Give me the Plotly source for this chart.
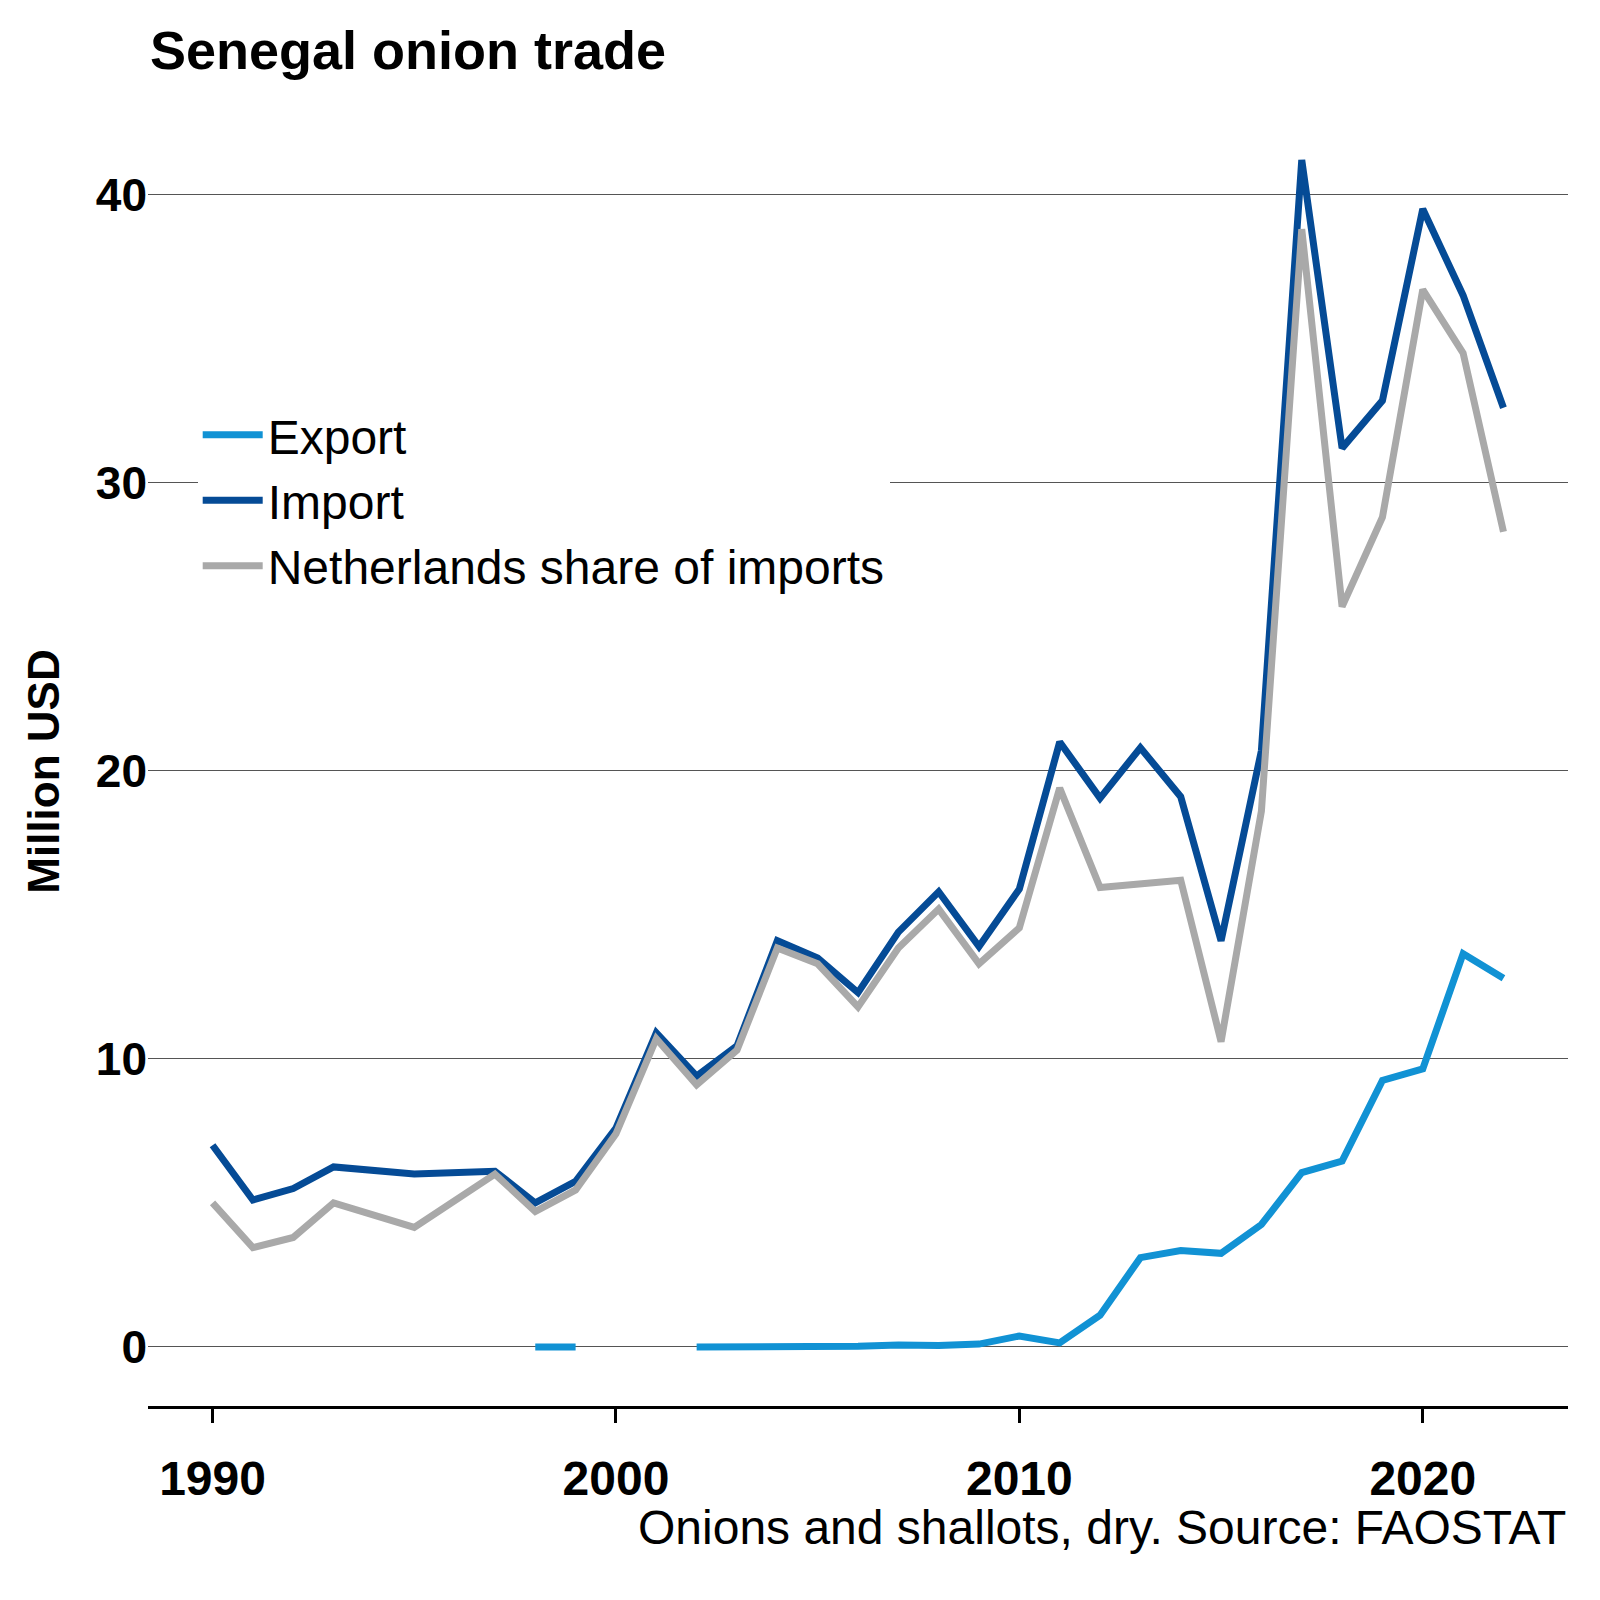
import plotly.graph_objects as go

years = [1990, 1991, 1992, 1993, 1995, 1997, 1998, 1999, 2000, 2001, 2002, 2003, 2004, 2005,
         2006, 2007, 2008, 2009, 2010, 2011, 2012, 2013, 2014, 2015, 2016, 2017, 2018, 2019,
         2020, 2021, 2022]
imports = [7.0, 5.1, 5.5, 6.25, 6.0, 6.1, 5.0, 5.75, 7.6, 10.9, 9.4, 10.45, 14.1, 13.5,
           12.3, 14.4, 15.8, 13.9, 15.9, 21.0, 19.05, 20.8, 19.1, 14.1, 20.7, 41.2, 31.2, 32.85,
           39.5, 36.5, 32.6]
netherlands = [5.0, 3.45, 3.8, 5.0, 4.15, 6.0, 4.7, 5.45, 7.4, 10.7, 9.1, 10.3, 13.85, 13.3,
               11.8, 13.85, 15.2, 13.3, 14.55, 19.4, 15.95, 16.1, 16.2, 10.6, 18.6, 38.8, 25.7, 28.8,
               36.7, 34.5, 28.3]
export_years = [1998, 1999, 2000, 2001, 2002, 2003, 2004, 2005, 2006, 2007, 2008, 2009, 2010,
                2011, 2012, 2013, 2014, 2015, 2016, 2017, 2018, 2019, 2020, 2021, 2022]
exports = [0, 0, None, None, 0, 0, 0.01, 0.02, 0.02, 0.07, 0.05, 0.1, 0.38,
           0.14, 1.1, 3.1, 3.35, 3.25, 4.25, 6.05, 6.45, 9.25, 9.65, 13.65, 12.8]

font = "Liberation Sans, Arial, sans-serif"

fig = go.Figure()
fig.add_trace(go.Scatter(x=export_years, y=exports, mode='lines', name='Export',
                         line=dict(color='#1192d4', width=7), connectgaps=False))
fig.add_trace(go.Scatter(x=years, y=imports, mode='lines', name='Import',
                         line=dict(color='#054b96', width=7)))
fig.add_trace(go.Scatter(x=years, y=netherlands, mode='lines', name='Netherlands share of imports',
                         line=dict(color='#a9a9a9', width=7)))

fig.update_layout(
    width=1600, height=1600,
    paper_bgcolor='white', plot_bgcolor='white',
    margin=dict(l=140, r=40, t=129, b=202),
    font=dict(family=font, color='black'),
    title=dict(text='<b>Senegal onion trade</b>', x=142/1600, xanchor='left',
               y=1 - 42/1600, yanchor='middle', font=dict(size=54)),
    showlegend=True,
    legend=dict(x=0.035, y=0.795, xanchor='left', yanchor='top', bgcolor='white',
                font=dict(size=48), tracegroupgap=0, itemwidth=60),
    xaxis=dict(range=[1988.4, 2023.6], tickvals=[1990, 2000, 2010, 2020],
               tickfont=dict(size=48, family=font, weight='bold'), showgrid=False,
               showline=True, linecolor='black', linewidth=3, ticks='outside',
               ticklen=14, tickwidth=3, tickcolor='black', zeroline=False,
               ticklabelstandoff=14),
    yaxis=dict(range=[-2.05, 42], tickvals=[0, 10, 20, 30, 40],
               tickfont=dict(size=46, family=font, weight='bold'),
               showgrid=True, gridcolor='#555555', gridwidth=1, zeroline=False,
               title=dict(text='<b>Million USD</b>', font=dict(size=44), standoff=22)),
    annotations=[dict(text='Onions and shallots, dry. Source: FAOSTAT', xref='paper', yref='paper',
                      x=1, y=-0.096, xanchor='right', yanchor='middle', showarrow=False,
                      font=dict(size=48))],
)

fig.write_html("out.html")
